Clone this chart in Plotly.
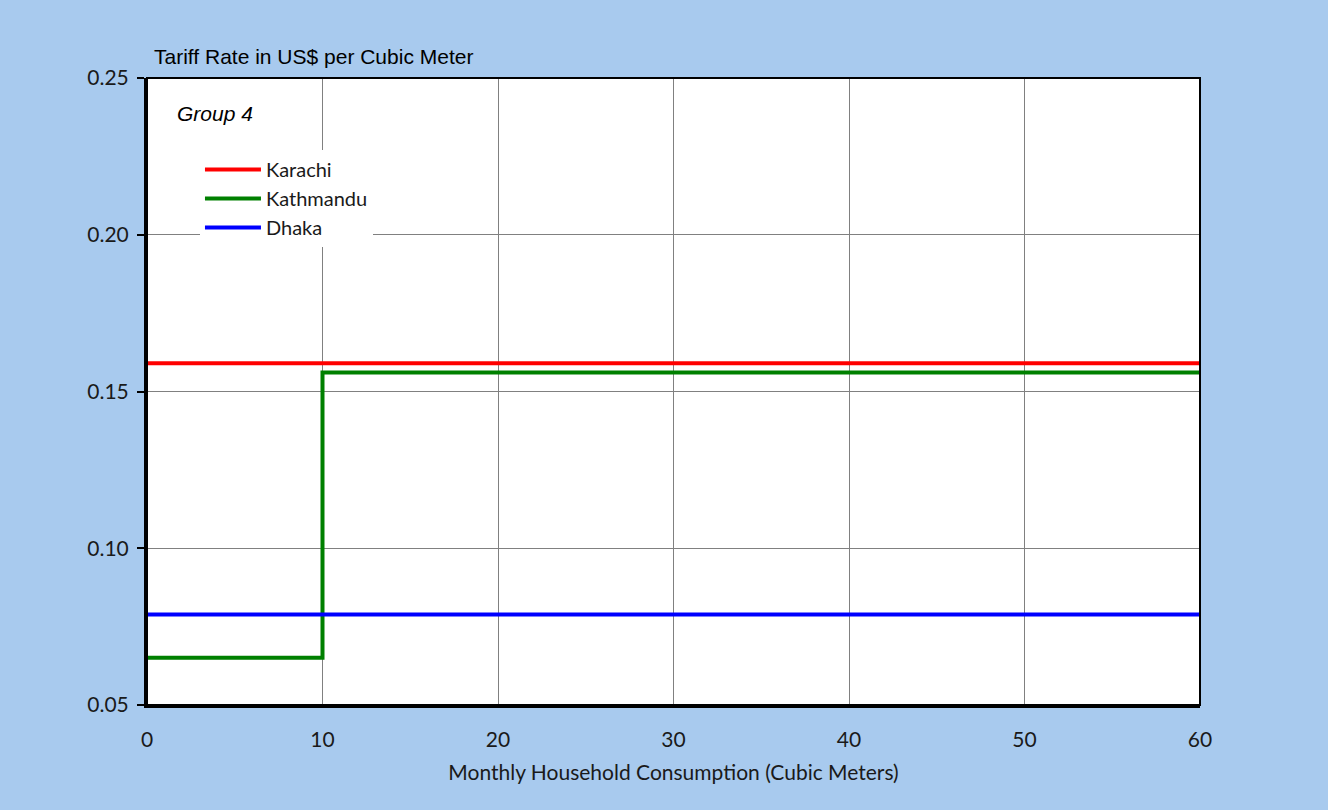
import plotly.graph_objects as go

# Data
series_names = ["Karachi", "Kathmandu", "Dhaka"]
karachi_x = [0, 60]
karachi_y = [0.159, 0.159]
kathmandu_x = [0, 10, 60]
kathmandu_y = [0.0651, 0.1561, 0.1561]
dhaka_x = [0, 60]
dhaka_y = [0.0789, 0.0789]
colors = ["#FF0000", "#008000", "#0000FF"]
x_ticks = [0, 10, 20, 30, 40, 50, 60]
y_ticks = [0.05, 0.10, 0.15, 0.20, 0.25]

BG = "#A8CAEE"
HUM = "Lato, Open Sans, sans-serif"
ARIAL = "Liberation Sans, Arial, sans-serif"
TICKFONT = dict(family=HUM, size=21, color="#1a1a1a")

fig = go.Figure()
fig.add_trace(go.Scatter(x=karachi_x, y=karachi_y, mode="lines", name=series_names[0],
                         line=dict(color=colors[0], width=4)))
fig.add_trace(go.Scatter(x=kathmandu_x, y=kathmandu_y, mode="lines", name=series_names[1],
                         line=dict(color=colors[1], width=4, shape="hv")))
fig.add_trace(go.Scatter(x=dhaka_x, y=dhaka_y, mode="lines", name=series_names[2],
                         line=dict(color=colors[2], width=4)))

fig.update_layout(
    width=1328, height=810,
    paper_bgcolor=BG, plot_bgcolor="white",
    margin=dict(l=147, r=128, t=78, b=105),
    showlegend=True,
    legend=dict(
        x=0.0503, y=0.885, xanchor="left", yanchor="top",
        bgcolor="white", borderwidth=0,
        font=dict(family=HUM, size=20, color="#1a1a1a"),
        tracegroupgap=0, itemwidth=56,
    ),
    xaxis=dict(
        range=[0, 60], tickvals=x_ticks, ticks="", showgrid=True,
        gridcolor="#808080", gridwidth=1, zeroline=False,
        showline=True, linecolor="black", linewidth=3,
        tickfont=TICKFONT, ticklabelstandoff=14,
        title=dict(text="Monthly Household Consumption (Cubic Meters)",
                   font=dict(family=HUM, size=21, color="#1a1a1a"),
                   standoff=16),
    ),
    yaxis=dict(
        range=[0.05, 0.25], tickvals=y_ticks, tickformat=".2f",
        ticks="outside", ticklen=7, tickwidth=2, tickcolor="black",
        showgrid=True, gridcolor="#808080", gridwidth=1, zeroline=False,
        showline=True, linecolor="black", linewidth=3,
        tickfont=TICKFONT, ticklabelstandoff=4,
    ),
    shapes=[dict(type="rect", xref="paper", yref="paper", x0=0, y0=0, x1=1, y1=1,
                 line=dict(color="black", width=2), layer="above")],
    annotations=[
        dict(text="Tariff Rate in US$ per Cubic Meter", xref="paper", yref="paper",
             x=0.0048, y=1.0335, xanchor="left", yanchor="middle", showarrow=False,
             font=dict(family=ARIAL, size=21, color="black")),
        dict(text="<i>Group 4</i>", xref="paper", yref="paper",
             x=0.0266, y=0.9426, xanchor="left", yanchor="middle", showarrow=False,
             font=dict(family=ARIAL, size=21, color="black")),
    ],
)

fig.write_html("out.html", config={"displayModeBar": False},
               post_script="document.body.style.margin='0';document.body.style.padding='0';")
